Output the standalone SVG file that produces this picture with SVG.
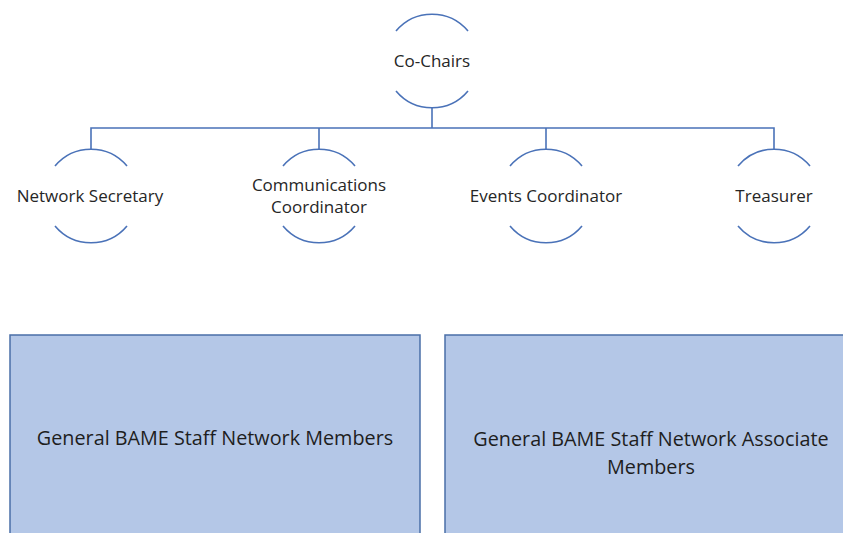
<svg xmlns="http://www.w3.org/2000/svg" width="843" height="533" viewBox="0 0 843 533">
  <style>
    .arc { fill: none; stroke: #4a72b8; stroke-width: 1.6; }
    .wire { fill: none; stroke: #4a72b8; stroke-width: 1.6; }
    .lbl { font-family: "Open Sans", "Liberation Sans", sans-serif; font-size: 17px; fill: #262626; text-anchor: middle; dominant-baseline: central; }
    .box { fill: #b4c7e7; stroke: #4a6fa8; stroke-width: 1.5; }
    .big { font-family: "Open Sans", "Liberation Sans", sans-serif; font-size: 19.8px; fill: #1e1e1e; text-anchor: middle; dominant-baseline: central; }
  </style>
  <rect width="843" height="533" fill="#ffffff"/>

  <!-- connectors -->
  <g id="connectors">
    <path class="wire" d="M432 108 V128"/>
    <path class="wire" d="M91 149 V128 H774 V149"/>
    <path class="wire" d="M319 128 V149"/>
    <path class="wire" d="M546 128 V149"/>
  </g>

  <!-- Co-Chairs -->
  <g id="co-chairs">
    <path class="arc" d="M396 31 A47 47 0 0 1 468 31"/>
    <path class="arc" d="M396 91 A47 47 0 0 0 468 91"/>
    <text class="lbl" x="432" y="60">Co-Chairs</text>
  </g>

  <!-- Network Secretary -->
  <g id="network-secretary">
    <path class="arc" d="M55 166 A47 47 0 0 1 127 166"/>
    <path class="arc" d="M55 226 A47 47 0 0 0 127 226"/>
    <text class="lbl" x="90" y="195">Network Secretary</text>
  </g>

  <!-- Communications Coordinator -->
  <g id="communications-coordinator">
    <path class="arc" d="M283 166 A47 47 0 0 1 355 166"/>
    <path class="arc" d="M283 226 A47 47 0 0 0 355 226"/>
    <text class="lbl" x="319" y="184">Communications</text>
    <text class="lbl" x="319" y="206">Coordinator</text>
  </g>

  <!-- Events Coordinator -->
  <g id="events-coordinator">
    <path class="arc" d="M510 166 A47 47 0 0 1 582 166"/>
    <path class="arc" d="M510 226 A47 47 0 0 0 582 226"/>
    <text class="lbl" x="546" y="195">Events Coordinator</text>
  </g>

  <!-- Treasurer -->
  <g id="treasurer">
    <path class="arc" d="M738 166 A47 47 0 0 1 810 166"/>
    <path class="arc" d="M738 226 A47 47 0 0 0 810 226"/>
    <text class="lbl" x="774" y="195">Treasurer</text>
  </g>

  <!-- member groups -->
  <g id="members">
    <rect class="box" x="10" y="335" width="410" height="205"/>
    <text class="big" x="215" y="437">General BAME Staff Network Members</text>
  </g>

  <g id="associate-members">
    <rect class="box" x="445" y="335" width="410" height="205"/>
    <text class="big" x="651" y="438">General BAME Staff Network Associate</text>
    <text class="big" x="651" y="466">Members</text>
  </g>
</svg>
